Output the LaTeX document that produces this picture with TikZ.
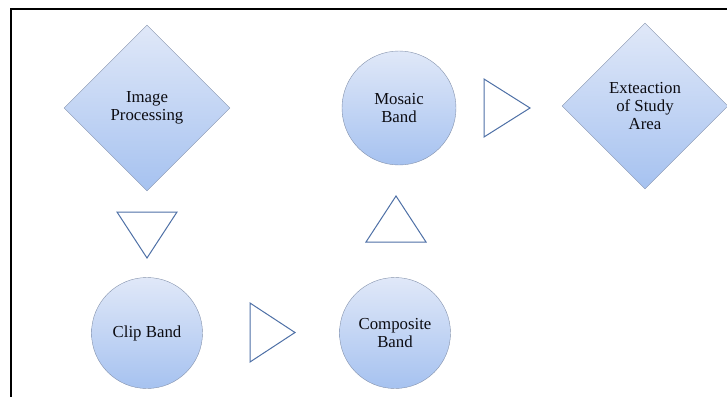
\documentclass[tikz,border=0pt]{standalone}
\usepackage{fontspec}
\setmainfont{Liberation Serif}
\usetikzlibrary{positioning, shapes.geometric}
\definecolor{stepTop}{RGB}{224,232,248}
\definecolor{stepBottom}{RGB}{166,194,240}
\definecolor{stepEdge}{RGB}{132,146,172}
\definecolor{flowBlue}{RGB}{78,112,166}
\definecolor{textDark}{RGB}{12,12,18}
\tikzset{
    base/.style={
        font=\fontsize{16.8}{18}\selectfont,
        align=center,
        text=textDark
    },
    decision/.style={
        base,
        diamond,
        aspect=1,
        draw=stepEdge,
        thin,
        top color=stepTop,
        bottom color=stepBottom,
        minimum width=166pt,
        minimum height=166pt,
        inner sep=0pt
    },
    band/.style={
        base,
        circle,
        draw=stepEdge,
        thin,
        top color=stepTop,
        bottom color=stepBottom,
        minimum size=111pt,
        inner sep=0pt
    },
    flowtri/.style={
        draw=flowBlue,
        line width=1pt,
        fill=white,
        line join=miter
    },
    frame/.style={
        line width=2.5pt,
        black
    }
}

\begin{document}
\begin{tikzpicture}[x=1pt, y=-1pt]
  \useasboundingbox (0,0) rectangle (727,396);

  % Frame
  \draw[frame] (11,397) -- (11,9) -- (728,9);

  % Steps
  \node[decision] (imgproc) at (147,108) {Image\\Processing};
  \node[band, minimum size=114pt] (mosaic) at (399,108) {Mosaic\\Band};
  \node[decision] (extract) at (645,106) {Exteaction\\of Study\\Area};
  \node[band] (clip) at (147,333) {Clip Band};
  \node[band] (composite) at (395,333) {Composite\\Band};

  % Flow markers
  \coordinate (downtri) at (147,235);
  \coordinate (righttri) at (272,333);
  \coordinate (uptri) at (396,219);
  \coordinate (endtri) at (507,108);

  \draw[flowtri] (downtri) ++(-30,-23) -- ++(60,0) -- ++(-30,46) -- cycle;
  \draw[flowtri] (righttri) ++(-22,-30) -- ++(0,59) -- ++(45,-29.5) -- cycle;
  \draw[flowtri] (uptri) ++(-30,23) -- ++(60,0) -- ++(-30,-46) -- cycle;
  \draw[flowtri] (endtri) ++(-23,-29) -- ++(0,58) -- ++(46,-29) -- cycle;
\end{tikzpicture}
\end{document}
